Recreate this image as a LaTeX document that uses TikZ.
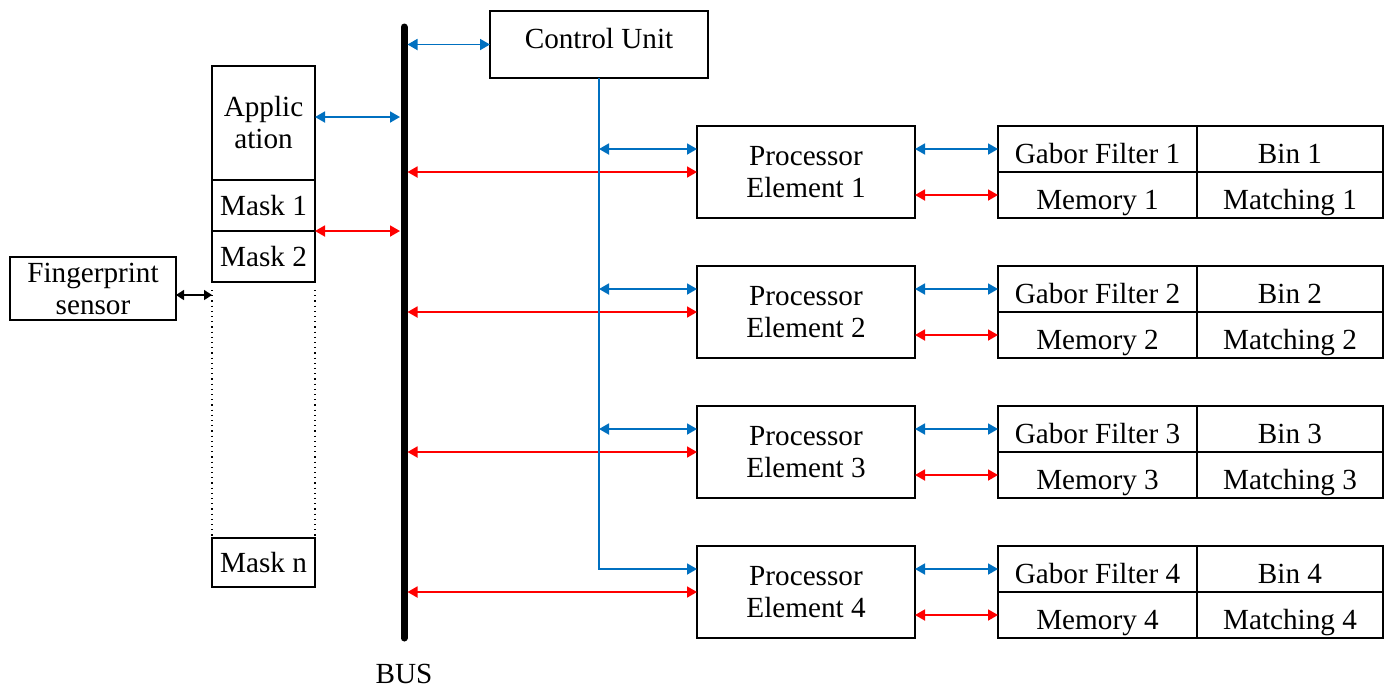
\documentclass[tikz,border=0pt]{standalone}
\usepackage{fontspec}
\setmainfont{Liberation Serif}
\usetikzlibrary{arrows.meta,positioning}
\definecolor{cublue}{RGB}{0,112,192}
\definecolor{pered}{RGB}{255,0,0}
\tikzset{
    box/.style={draw, line width=0.7pt, inner sep=0pt, outer sep=0pt, align=center,
        font=\fontsize{14.6}{16}\selectfont},
    cell/.style={box, minimum height=23pt, text height=14pt, text depth=0pt},
    bluearr/.style={draw=cublue, line width=0.9pt, {Triangle[length=5pt,width=5.5pt]}-{Triangle[length=5pt,width=5.5pt]}},
    redarr/.style={draw=pered, line width=0.9pt, {Triangle[length=5pt,width=5.5pt]}-{Triangle[length=5pt,width=5.5pt]}},
    blackarr/.style={draw=black, line width=0.8pt, {Triangle[length=4pt,width=5pt]}-{Triangle[length=4pt,width=5pt]}},
}
\begin{document}
\begin{tikzpicture}[x=0.5pt, y=-0.5pt]
    \useasboundingbox (0,0) rectangle (1384,687);
    % bus
    \coordinate (bustop) at (404,27);
    \coordinate (busbot) at (404,638);
    \draw[line width=3.5pt, line cap=round] (bustop) -- (busbot);
    \node[font=\fontsize{14.6}{16}\selectfont, anchor=base, inner sep=0pt] (buslabel) at (404,683) {BUS};
    % left side
    \node[box, minimum width=83pt, minimum height=31.5pt] (sensor) at (93,288.5) {Fingerprint\\sensor};
    \node[box, minimum width=51.5pt, minimum height=57pt, anchor=north west] (app) at (212,66) {Applic\\ation};
    \node[box, minimum width=51.5pt, minimum height=25.5pt, anchor=north] (mask1) at (app.south) {Mask 1};
    \node[box, minimum width=51.5pt, minimum height=25.5pt, anchor=north] (mask2) at (mask1.south) {Mask 2};
    \node[box, minimum width=51.5pt, minimum height=24.5pt, anchor=north west] (maskn) at (212,538) {Mask n};
    \draw[dotted, line width=0.6pt] ([yshift=-4pt]mask2.south west) -- (maskn.north west);
    \draw[dotted, line width=0.6pt] ([yshift=-4pt]mask2.south east) -- (maskn.north east);
    \draw[blackarr] ([yshift=-3.25pt]sensor.east) -- ([yshift=-3.25pt]sensor.east -| mask2.west);
    \draw[bluearr] ([yshift=3pt]app.east) -- ([xshift=-2pt,yshift=3pt]bustop |- app.east);
    \draw[redarr] (mask1.south east) -- ([xshift=-2pt]bustop |- mask1.south east);
    % control unit
    \node[box, minimum width=109pt, minimum height=33.5pt, text height=9.5pt, text depth=6pt] (cu) at (599,44.5) {Control Unit};
    \draw[bluearr] ([xshift=1.75pt]bustop |- cu.west) -- (cu.west);
    % processor elements
    \foreach \i in {1,...,4} {
        \pgfmathsetmacro\yy{126+140*(\i-1)}
        \node[box, minimum width=109pt, minimum height=46pt, anchor=north west] (pe\i) at (697,\yy) {Processor\\Element \i};
        \node[cell, minimum width=99.5pt, anchor=north west] (gab\i) at (998,\yy) {Gabor Filter \i};
        \node[cell, minimum width=93pt, anchor=north west] (bin\i) at (gab\i.north east) {Bin \i};
        \node[cell, minimum width=99.5pt, anchor=north] (mem\i) at (gab\i.south) {Memory \i};
        \node[cell, minimum width=93pt, anchor=north] (mat\i) at (bin\i.south) {Matching \i};
        \draw[bluearr] (pe\i.east |- gab\i.west) -- (gab\i.west);
        \draw[redarr] (pe\i.east |- mem\i.west) -- (mem\i.west);
        \draw[redarr] ([xshift=1.75pt]bustop |- pe\i.west) -- (pe\i.west);
        \ifnum\i<4
            \draw[bluearr] (cu.south |- gab\i.west) -- (pe\i.west |- gab\i.west);
        \fi
    }
    \draw[draw=cublue, line width=0.9pt, -{Triangle[length=5pt,width=5.5pt]}] (cu.south) |- (pe4.west |- gab4.west);
\end{tikzpicture}
\end{document}
